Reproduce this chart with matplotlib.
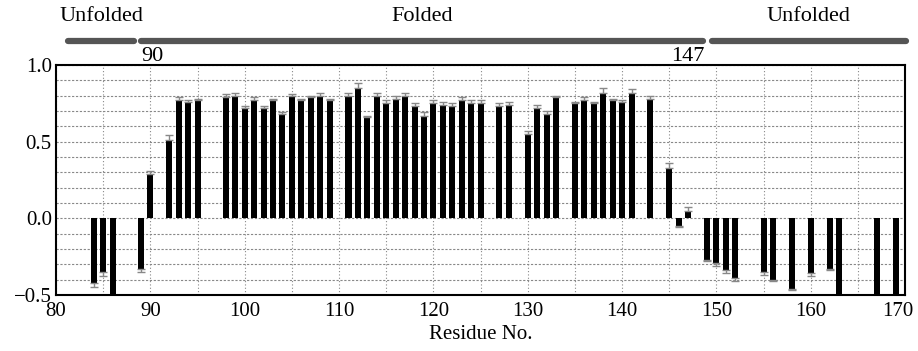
import matplotlib.pyplot as plt
import matplotlib.transforms as mtransforms
import numpy as np

# residue numbers and values
residues = [84, 85, 86, 89, 90, 92, 93, 94, 95,
            98, 99, 100, 101, 102, 103, 104, 105, 106, 107, 108, 109,
            111, 112, 113, 114, 115, 116, 117, 118, 119, 120, 121, 122, 123, 124, 125,
            127, 128, 130, 131, 132, 133, 135, 136, 137, 138, 139, 140, 141, 143,
            145, 146, 147, 149, 150, 151, 152, 155, 156, 158, 160, 162, 163, 167, 169]
values = [-0.42, -0.35, -0.60, -0.33, 0.29, 0.51, 0.77, 0.76, 0.77,
          0.79, 0.80, 0.72, 0.77, 0.72, 0.77, 0.68, 0.80, 0.77, 0.79, 0.80, 0.77,
          0.80, 0.85, 0.66, 0.80, 0.75, 0.78, 0.80, 0.73, 0.67, 0.75, 0.74, 0.73, 0.77, 0.75, 0.75,
          0.73, 0.74, 0.55, 0.72, 0.68, 0.79, 0.75, 0.77, 0.75, 0.82, 0.77, 0.76, 0.82, 0.78,
          0.33, -0.05, 0.05, -0.27, -0.29, -0.34, -0.39, -0.35, -0.40, -0.46, -0.36, -0.33, -0.60, -0.60, -0.60]
errors = [0.03, 0.03, 0.0, 0.02, 0.02, 0.03, 0.02, 0.01, 0.01,
          0.02, 0.02, 0.01, 0.02, 0.01, 0.01, 0.01, 0.01, 0.01, 0.01, 0.02, 0.01,
          0.02, 0.03, 0.01, 0.02, 0.02, 0.02, 0.02, 0.02, 0.02, 0.02, 0.02, 0.02, 0.02, 0.02, 0.02,
          0.02, 0.02, 0.02, 0.02, 0.02, 0.01, 0.01, 0.02, 0.01, 0.03, 0.01, 0.01, 0.02, 0.02,
          0.03, 0.01, 0.02, 0.01, 0.02, 0.02, 0.02, 0.02, 0.01, 0.01, 0.02, 0.01, 0.0, 0.0, 0.0]

regions = ["Unfolded", "Folded", "Unfolded"]
region_spans = [(81.3, 88.3), (89.0, 148.6), (149.5, 170.1)]
boundary_labels = ["90", "147"]
boundary_pos = [90.2, 147.0]

plt.rcParams['font.family'] = ['Liberation Serif', 'DejaVu Serif']
plt.rcParams['font.size'] = 15

fig = plt.figure(figsize=(9.18, 3.51), dpi=100)
ax = fig.add_axes([0.061, 0.160, 0.925, 0.655])

v = np.array(values)
e = np.array(errors)
lower = np.where(v < 0, e, 0)
upper = np.where(v >= 0, e, 0)
ax.bar(residues, values, width=0.64, color='black', zorder=3)
ax.errorbar(residues, values, yerr=[lower, upper], fmt='none', ecolor='#888888',
            elinewidth=1, capsize=3, capthick=1, zorder=4)

ax.set_xlim(80, 170)
ax.set_ylim(-0.5, 1.0)
ax.set_xticks(np.arange(80, 171, 10))
ax.set_xticks(np.arange(85, 171, 10), minor=True)
ax.set_yticks([-0.5, 0.0, 0.5, 1.0])
ax.set_yticklabels(['\u22120.5', '0.0', '0.5', '1.0'])
ax.set_yticks(np.arange(-0.4, 1.0, 0.1), minor=True)
ax.tick_params(which='both', direction='in', length=0)
ax.tick_params(axis='x', pad=5)
ax.tick_params(axis='y', pad=3)
ax.grid(which='both', axis='y', linestyle=(0, (2, 1.5)), color='#888888', linewidth=0.8)
ax.grid(which='both', axis='x', linestyle=(0, (1, 2)), color='#888888', linewidth=0.8)
for s in ax.spines.values():
    s.set_linewidth(1.5)
ax.set_xlabel("Residue No.", fontsize=15, labelpad=3)

# nudge the last x label so it stays inside the figure
last = ax.get_xticklabels()[-1]
last.set_transform(last.get_transform() +
                   mtransforms.ScaledTranslation(-5 / 72, 0, fig.dpi_scale_trans))

# folded / unfolded annotation above the plot
tr = ax.get_xaxis_transform()
for name, (a, b) in zip(regions, region_spans):
    ax.plot([a, b], [1.104, 1.104], transform=tr, clip_on=False,
            color='#555555', linewidth=4.5, solid_capstyle='round')
    ax.text((a + b) / 2, 1.21, name, transform=tr, ha='center', va='center', fontsize=16)
for lab, x in zip(boundary_labels, boundary_pos):
    ax.text(x, 1.035, lab, transform=tr, ha='center', va='center', fontsize=16)

plt.savefig("out.png", dpi=100)
